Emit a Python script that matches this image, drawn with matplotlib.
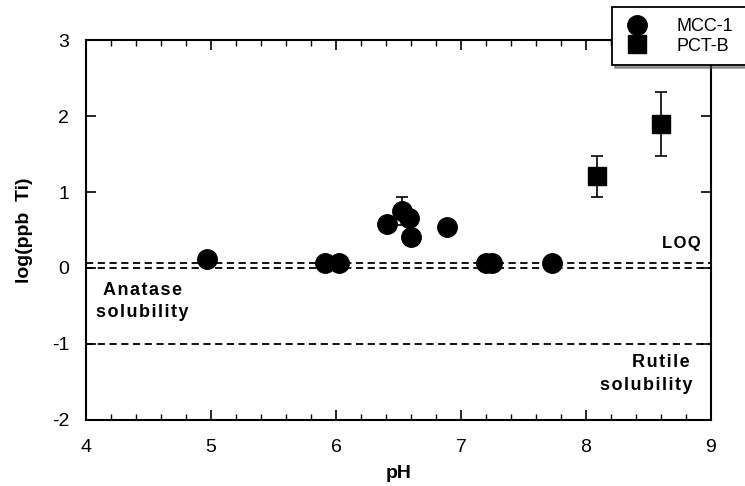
import matplotlib
matplotlib.use("Agg")
import matplotlib.pyplot as plt
from matplotlib.ticker import MultipleLocator

plt.rcParams['font.family'] = ['Liberation Sans', 'DejaVu Sans']
plt.rcParams['axes.unicode_minus'] = False

# MCC-1 (circles)
mcc_ph = [4.97, 5.91, 6.02, 6.41, 6.53, 6.58, 6.60, 6.89, 7.20, 7.25, 7.73]
mcc_log = [0.12, 0.07, 0.07, 0.58, 0.75, 0.66, 0.41, 0.54, 0.07, 0.07, 0.07]
mcc_err_ph = [6.53]
mcc_err_log = [0.75]
mcc_err = [0.18]

# PCT-B (squares)
pct_ph = [8.09, 8.60]
pct_log = [1.21, 1.90]
pct_err_lo = [0.27, 0.42]
pct_err_hi = [0.27, 0.41]

loq = 0.06
anatase = 0.0
rutile = -1.0


def spaced(s):
    # wide letter spacing like the original figure
    return '\u200a'.join(s)


fig = plt.figure(figsize=(7.45, 4.86), dpi=100)
ax = fig.add_axes([86/745, 1-420/486, 625/745, 380/486])

dash = (0, (4, 2.5))
ax.axhline(loq, color='black', lw=1.3, ls=dash, zorder=1)
ax.axhline(anatase, color='black', lw=1.3, ls=dash, zorder=1)
ax.axhline(rutile, color='black', lw=1.3, ls=dash, zorder=1)

ax.errorbar(mcc_err_ph, mcc_err_log, yerr=mcc_err, fmt='none', ecolor='black',
            elinewidth=1.2, capsize=4, capthick=1.2, zorder=2)
ax.errorbar(pct_ph, pct_log, yerr=[pct_err_lo, pct_err_hi], fmt='none', ecolor='black',
            elinewidth=1.2, capsize=4, capthick=1.2, zorder=2)
ax.plot(mcc_ph, mcc_log, 'o', color='black', ms=14, label='MCC-1', zorder=3)
ax.plot(pct_ph, pct_log, 's', color='black', ms=13, label='PCT-B', zorder=3)

ax.set_xlim(4, 9)
ax.set_ylim(-2, 3)
ax.xaxis.set_major_locator(MultipleLocator(1))
ax.xaxis.set_minor_locator(MultipleLocator(0.2))
ax.yaxis.set_major_locator(MultipleLocator(1))
ax.tick_params(which='both', direction='in', top=True, right=True, labelsize=14)
ax.tick_params(axis='x', pad=14)
ax.tick_params(axis='y', pad=12)
ax.tick_params(which='major', length=7, width=1.2)
ax.tick_params(which='minor', length=4, width=1.0)
for s in ax.spines.values():
    s.set_linewidth(1.5)

ax.set_xlabel('pH', fontsize=14, fontweight='bold', labelpad=6)
ax.set_ylabel('log(ppb  Ti)', fontsize=14, fontweight='bold', labelpad=14)

ax.text(8.92, 0.22, spaced('LOQ'), fontsize=12, fontweight='bold', ha='right', va='bottom')
ax.text(4.45, -0.18, spaced('Anatase'), fontsize=13, fontweight='bold', ha='center', va='top')
ax.text(4.45, -0.47, spaced('solubility'), fontsize=13, fontweight='bold', ha='center', va='top')
ax.text(8.6, -1.13, spaced('Rutile'), fontsize=13, fontweight='bold', ha='center', va='top')
ax.text(8.48, -1.43, spaced('solubility'), fontsize=13, fontweight='bold', ha='center', va='top')

# legend box runs past the right edge of the figure, as in the scan
leg = ax.legend(loc='upper left', bbox_to_anchor=(612/745, 1-7/486, 160/745, 0),
                bbox_transform=fig.transFigure, mode='expand', frameon=True,
                fancybox=False, shadow=True, fontsize=13, handletextpad=1.4,
                borderpad=0.6, labelspacing=0.15, handlelength=1.6, borderaxespad=0)
leg.get_frame().set_edgecolor('black')
leg.get_frame().set_linewidth(1.3)

fig.savefig('out.png', dpi=100)
